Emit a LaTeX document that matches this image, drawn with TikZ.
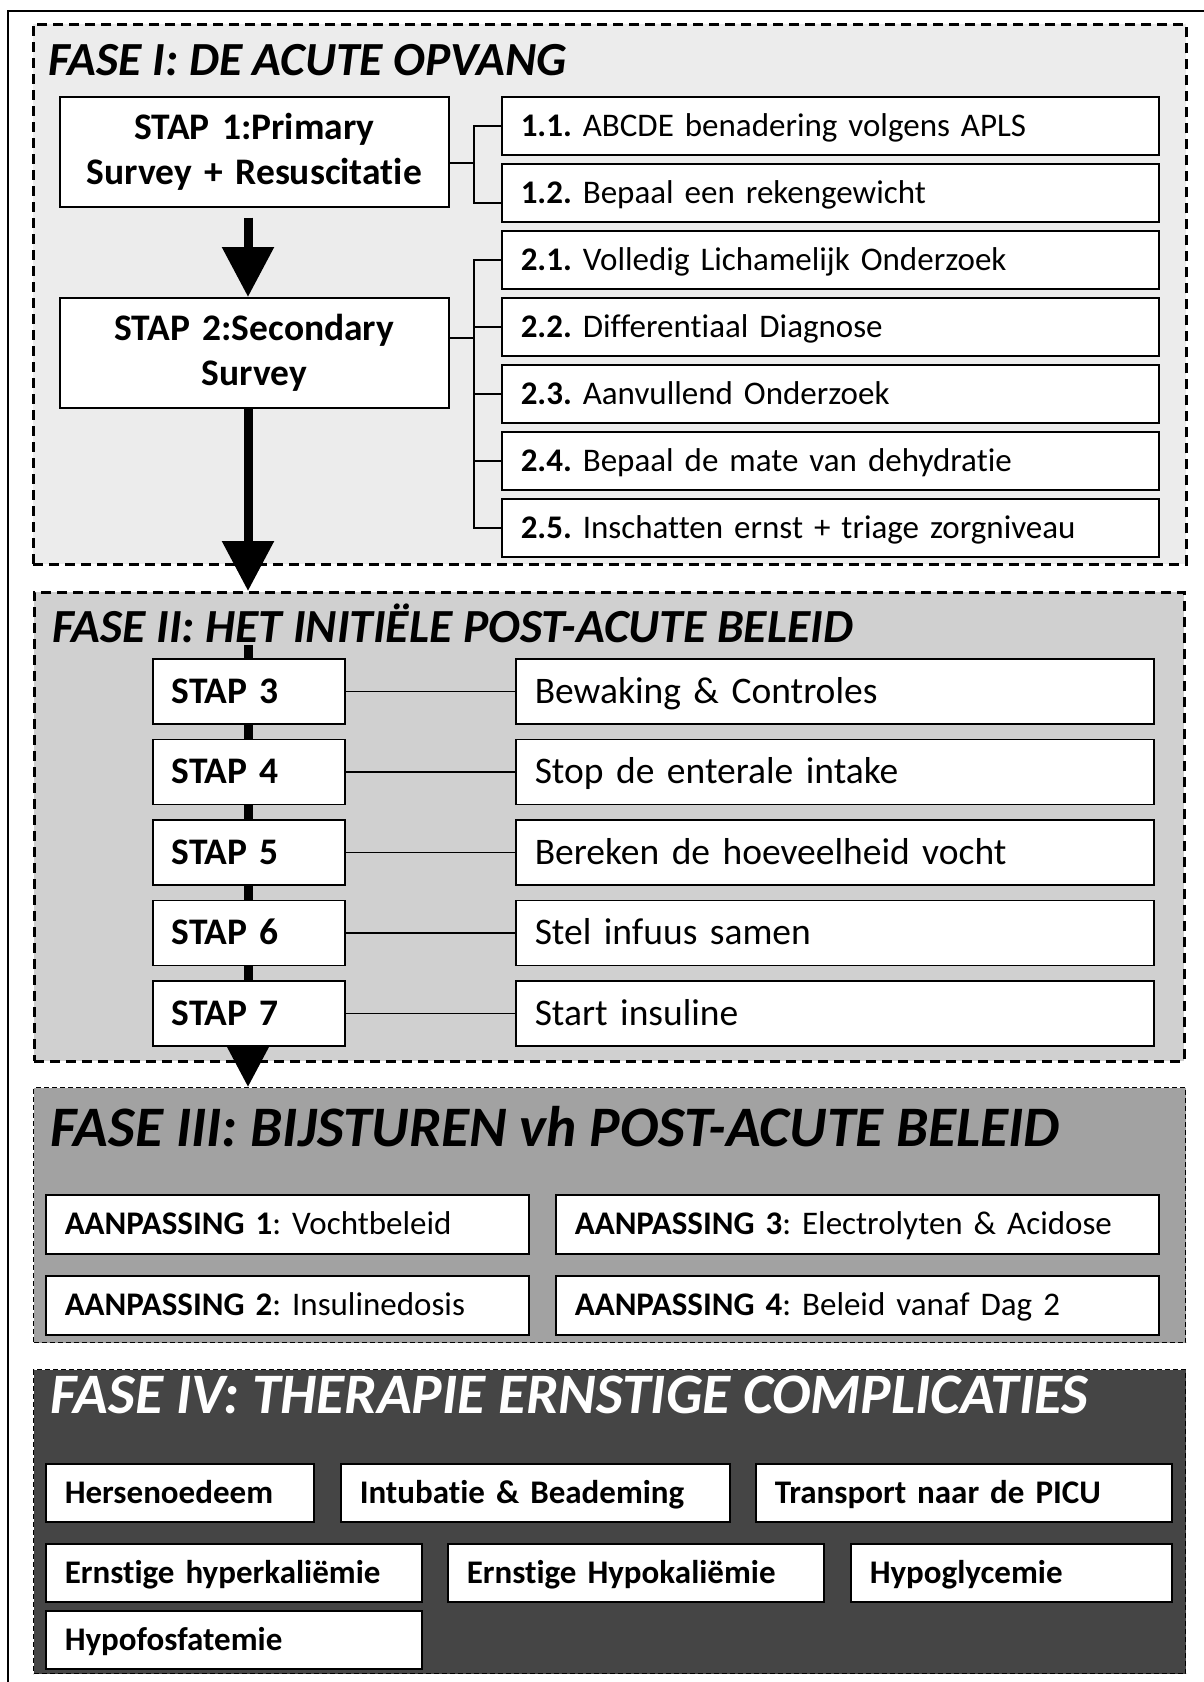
\documentclass[tikz,border=0pt]{standalone}
\usepackage{fontspec}
\setmainfont{Carlito}[Ligatures=NoCommon]
\usetikzlibrary{arrows.meta}
\definecolor{faseI}{HTML}{ECECEC}
\definecolor{faseII}{HTML}{D0D0D0}
\definecolor{faseIII}{HTML}{A2A2A2}
\definecolor{faseIV}{HTML}{454545}
\newcommand{\titelfont}{\fontsize{47.5}{57}\selectfont\bfseries\itshape}
\newcommand{\grootfont}{\fontsize{57.3}{69}\selectfont\bfseries\itshape}
\newcommand{\stapfont}{\fontsize{37.5}{45}\selectfont}
\newcommand{\puntfont}{\fontsize{33}{40}\selectfont}
\frenchspacing

\begin{document}
\begin{tikzpicture}[x=1pt, y=-1pt,
  fase/.style = {draw, anchor=north west, inner sep=0pt},
  dik/.style = {line width=2.5pt, dash pattern=on 10pt off 6pt},
  dun/.style = {line width=1.4pt, dash pattern=on 5pt off 3pt},
  titel/.style = {anchor=base west, inner sep=0pt},
  vak/.style = {draw, fill=white, line width=1.5pt, anchor=north west,
    inner xsep=19pt, inner ysep=0pt, align=left},
  punt/.style = {vak, font=\puntfont, text height=25pt, text depth=4pt,
    text width=619pt, minimum height=58pt},
  stap/.style = {vak, font=\stapfont\bfseries, text height=28pt, text depth=4.5pt,
    text width=154pt, minimum height=65pt},
  actie/.style = {vak, font=\stapfont, text height=28pt, text depth=4.5pt,
    text width=600pt, minimum height=65pt},
  aanp/.style = {vak, font=\puntfont, text height=25pt, text depth=4pt, minimum height=59pt},
  compl/.style = {vak, font=\puntfont\bfseries, text height=25pt, text depth=4pt, minimum height=58pt},
  lijn/.style = {line width=1.5pt},
  pijl/.style = {line width=9pt, -{Triangle[width=50pt, length=50pt]}}]
  \useasboundingbox (0,0) rectangle (1204,1682);
  \draw[line width=1.5pt] (8,1682) |- (1204,11);

  % de vier fasen
  \node[fase, dik, fill=faseI, minimum width=1153pt, minimum height=540pt] (f1) at (32,23) {};
  \node[fase, dik, fill=faseII, minimum width=1150pt, minimum height=469pt] (f2) at (33,591) {};
  \node[fase, dun, fill=faseIII, minimum width=1152pt, minimum height=255pt] (f3) at (33,1087) {};
  \node[fase, dun, fill=faseIV, minimum width=1152pt, minimum height=304pt] (f4) at (33,1369) {};

  \node[titel, font=\titelfont] (t1) at (48,75) {FASE I: DE ACUTE OPVANG};
  \node[titel, font=\titelfont] (t2) at (52,642) {FASE II: HET INITIËLE POST-ACUTE BELEID};
  \node[titel, font=\grootfont] (t3) at (50,1146) {FASE III: BIJSTUREN vh POST-ACUTE BELEID};
  \node[titel, font=\grootfont, text=white] (t4) at (50,1413) {FASE IV: THERAPIE ERNSTIGE COMPLICATIES};

  % fase I
  \node[vak, font=\stapfont\bfseries, align=center, text width=351pt, minimum height=110pt] (s1) at (59,96) {STAP 1:Primary\\Survey + Resuscitatie};
  \node[vak, font=\stapfont\bfseries, align=center, text width=351pt, minimum height=110pt] (s2) at (59,297) {STAP 2:Secondary\\Survey};

  \node[punt] (p11) at (501,96) {\textbf{1.1.} ABCDE benadering volgens APLS};
  \node[punt] (p12) at (501,163) {\textbf{1.2.} Bepaal een rekengewicht};
  \node[punt] (p21) at (501,230) {\textbf{2.1.} Volledig Lichamelijk Onderzoek};
  \node[punt] (p22) at (501,297) {\textbf{2.2.} Differentiaal Diagnose};
  \node[punt] (p23) at (501,364) {\textbf{2.3.} Aanvullend Onderzoek};
  \node[punt] (p24) at (501,431) {\textbf{2.4.} Bepaal de mate van dehydratie};
  \node[punt] (p25) at (501,498) {\textbf{2.5.} Inschatten ernst + triage zorgniveau};

  \coordinate (k1) at (474,163);
  \coordinate (k2) at (474,338);
  \draw[lijn] (s1.east |- k1) -- (k1);
  \draw[lijn] (p11.west) -| (k1) |- ([yshift=-10pt]p12.west);
  \draw[lijn] (s2.east |- k2) -- (k2);
  \draw[lijn] (p21.west) -| (k2) |- (p25.west);
  \draw[lijn] (p22.west) -- (p22.west -| k2);
  \draw[lijn] (p23.west) -- (p23.west -| k2);
  \draw[lijn] (p24.west) -- (p24.west -| k2);

  \coordinate (as) at (248,645);
  \draw[pijl] (s1.south -| as) ++(0,10) -- (s2.north -| as);
  \draw[pijl] (s2.south -| as) -- (f2.north -| as);
  \draw[pijl] (as) -- (as |- f3.north);

  % fase II
  \node[stap] (st3) at (152,658) {STAP 3};
  \node[stap] (st4) at (152,738.5) {STAP 4};
  \node[stap] (st5) at (152,819) {STAP 5};
  \node[stap] (st6) at (152,899.5) {STAP 6};
  \node[stap] (st7) at (152,980) {STAP 7};
  \node[actie] (a3) at (515,658) {Bewaking \& Controles};
  \node[actie] (a4) at (515,738.5) {Stop de enterale intake};
  \node[actie] (a5) at (515,819) {Bereken de hoeveelheid vocht};
  \node[actie] (a6) at (515,899.5) {Stel infuus samen};
  \node[actie] (a7) at (515,980) {Start insuline};
  \draw[lijn] (st3) -- (a3);
  \draw[lijn] (st4) -- (a4);
  \draw[lijn] (st5) -- (a5);
  \draw[lijn] (st6) -- (a6);
  \draw[lijn] (st7) -- (a7);

  % fase III
  \node[aanp, text width=445pt] (b1) at (45,1194) {\textbf{AANPASSING 1}: Vochtbeleid};
  \node[aanp, text width=445pt] (b2) at (45,1275) {\textbf{AANPASSING 2}: Insulinedosis};
  \node[aanp, text width=565pt] (b3) at (555,1194) {\textbf{AANPASSING 3}: Electrolyten \& Acidose};
  \node[aanp, text width=565pt] (b4) at (555,1275) {\textbf{AANPASSING 4}: Beleid vanaf Dag 2};

  % fase IV
  \node[compl, text width=230pt] (c1) at (45,1463) {Hersenoedeem};
  \node[compl, text width=351pt] (c2) at (340,1463) {Intubatie \& Beademing};
  \node[compl, text width=378pt] (c3) at (755,1463) {Transport naar de PICU};
  \node[compl, text width=338pt] (c4) at (45,1543) {Ernstige hyperkaliëmie};
  \node[compl, text width=338pt] (c5) at (447,1543) {Ernstige Hypokaliëmie};
  \node[compl, text width=283pt] (c6) at (850,1543) {Hypoglycemie};
  \node[compl, text width=338pt] (c7) at (45,1610) {Hypofosfatemie};
\end{tikzpicture}
\end{document}
